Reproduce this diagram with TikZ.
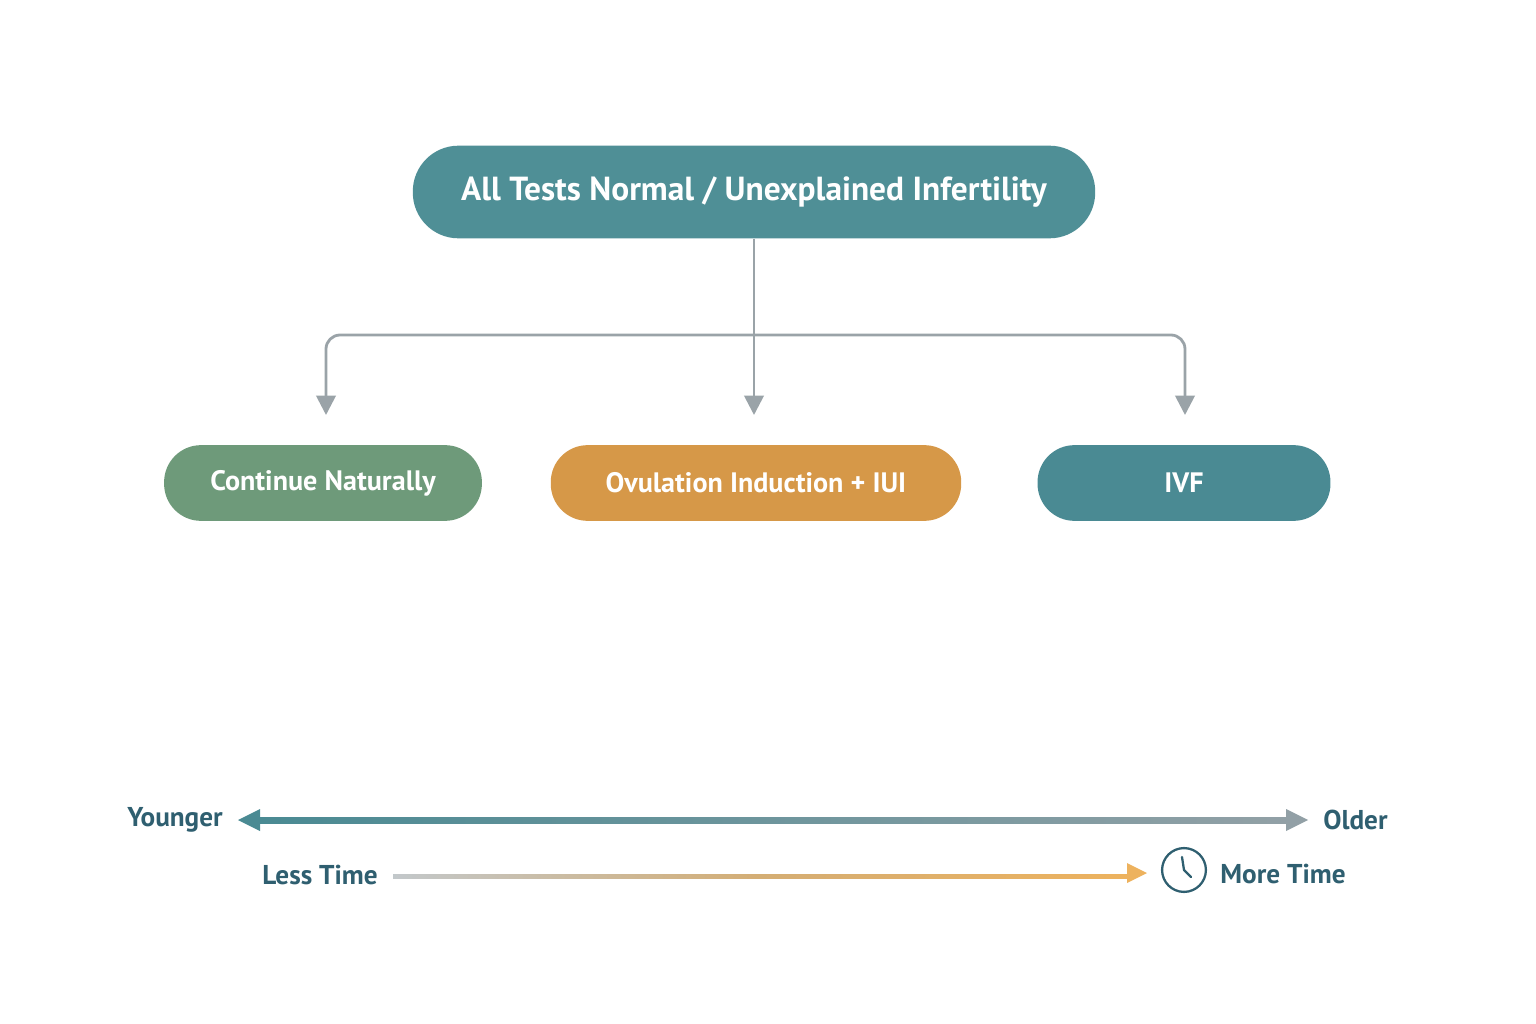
\documentclass[tikz,border=0pt]{standalone}
\usepackage{fontspec}
\setmainfont{PT Sans}
\usetikzlibrary{arrows.meta}
\usetikzlibrary{positioning}
\definecolor{tealA}{HTML}{4F8F96}
\definecolor{tealB}{HTML}{4A8A93}
\definecolor{sage}{HTML}{6E9A7A}
\definecolor{ochre}{HTML}{D69848}
\definecolor{greyline}{HTML}{9AA3A8}
\definecolor{ink}{HTML}{2F5F70}
\definecolor{gold}{HTML}{EDB25E}
\begin{document}
\begin{tikzpicture}[x=0.02cm,y=-0.02cm]

\tikzset{
    pill/.style = {
    rounded corners=21pt, text=white, inner sep=0pt, font=\bfseries\fontsize{16}{18}\selectfont
    },
    link/.style = {draw=greyline, line width=1.6pt, -{Triangle[width=11pt,length=11pt]}},
    lbl/.style = {text=ink, font=\bfseries\fontsize{15.5}{18}\selectfont, inner sep=0pt}
}

\useasboundingbox (0,0) rectangle (1536,1024);

\node (top) [pill, fill=tealA, minimum width=685*0.567pt, minimum height=93*0.567pt, rounded corners=26pt, font=\bfseries\fontsize{19}{24}\selectfont] at (754,192) {All Tests Normal / Unexplained Infertility};

\node (nat) [pill, fill=sage, minimum width=319*0.567pt, minimum height=76*0.567pt] at (323,483) {Continue Naturally};
\node (ovu) [pill, fill=ochre, minimum width=412*0.567pt, minimum height=76*0.567pt] at (756,483) {Ovulation Induction + IUI};
\node (ivf) [pill, fill=tealB, minimum width=294*0.567pt, minimum height=76*0.567pt] at (1184,483) {IVF};

% branches
\coordinate (split) at (754,335);
\draw[link] (top.south) -- (754,415);
\draw[link, rounded corners=8pt] (split) -| (326,415);
\draw[link, rounded corners=8pt] (split) -| (1185,415);

% age scale
\coordinate (ageL) at (238,820);
\coordinate (ageR) at (1308,820);
\shade[left color=tealB, right color=greyline!90!tealB] (258,817) rectangle (1288,823);
\fill[tealB] (ageL) -- (260,809) -- (260,831) -- cycle;
\fill[greyline!90!tealB] (ageR) -- (1286,809) -- (1286,831) -- cycle;
\node (young) [lbl, left=15*0.567pt of ageL] {Younger};
\node (old) [lbl, right=15*0.567pt of ageR] {Older};

% time scale
\coordinate (timeL) at (393,875);
\coordinate (timeR) at (1147,873);
\shade[left color=greyline!60!white, right color=gold, middle color=gold!70!greyline] (393,874) rectangle (1128,878);
\fill[gold] (timeR) -- (1127,863) -- (1127,883) -- cycle;
\node (less) [lbl, left=15*0.567pt of timeL] {Less Time};
\node (clock) [circle, draw=ink, line width=1.3pt, minimum size=44*0.567pt, inner sep=0pt] at (1184,870) {};
\draw[ink, line width=1.3pt, line cap=round] (clock.center) -- ++(-2,-13) (clock.center) -- ++(7,7);
\node (more) [lbl, right=13*0.567pt of clock, yshift=-2pt] {More Time};

\end{tikzpicture}
\end{document}
